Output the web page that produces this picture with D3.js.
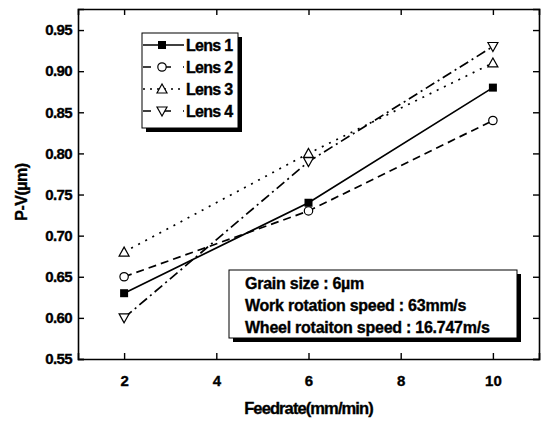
<!DOCTYPE html>
<html>
<head>
<meta charset="utf-8">
<script src="https://cdn.jsdelivr.net/npm/d3@7"></script>
<style>
  body { margin: 0; background: #fff; }
  svg text { font-family: "Liberation Sans", Arial, sans-serif; font-weight: bold; fill: #000;
             stroke: #000; stroke-width: 0.35px; }
</style>
</head>
<body>
<div id="chart"></div>
<script>
const feedrate = [2, 6, 10];
const lens1 = [0.63, 0.74, 0.88];
const lens2 = [0.65, 0.73, 0.84];
const lens3 = [0.68, 0.80, 0.91];
const lens4 = [0.60, 0.79, 0.93];
const seriesNames = ["Lens 1", "Lens 2", "Lens 3", "Lens 4"];
const xTicks = [2, 4, 6, 8, 10];
const yTicks = [0.55, 0.60, 0.65, 0.70, 0.75, 0.80, 0.85, 0.90, 0.95];
const notes = ["Grain size : 6\u00b5m", "Work rotation speed : 63mm/s", "Wheel rotaiton speed : 16.747m/s"];

const W = 549, H = 424;
const M = {top: 9, right: 10, bottom: 65, left: 78};
const IW = W - M.left - M.right, IH = H - M.top - M.bottom;

const svg = d3.select("#chart").append("svg").attr("width", W).attr("height", H);
const plot = svg.append("g").attr("transform", `translate(${M.left},${M.top})`);

const x = d3.scaleLinear().domain([1, 11]).range([0, IW]);
const y = d3.scaleLinear().domain([0.55, 0.9756]).range([IH, 0]);

// axes, ticks inward on all four sides
const fmt = d3.format(".2f");
plot.append("g").attr("transform", `translate(0,${IH})`)
    .call(d3.axisBottom(x).tickValues(xTicks).tickSize(-6).tickPadding(16))
    .call(g => g.selectAll("text").style("font-size", "15px"));
plot.append("g")
    .call(d3.axisTop(x).tickValues(xTicks).tickSize(-6).tickFormat(""));
plot.append("g")
    .call(d3.axisLeft(y).tickValues(yTicks).tickSize(-6).tickPadding(6).tickFormat(fmt))
    .call(g => g.selectAll("text").style("font-size", "15px").attr("letter-spacing", "-0.6"));
plot.append("g").attr("transform", `translate(${IW},0)`)
    .call(d3.axisRight(y).tickValues(yTicks).tickSize(-6).tickFormat(""));
plot.selectAll(".domain").attr("stroke-width", 1.6);
plot.selectAll(".tick line").attr("stroke-width", 1.4);

// axis titles
svg.append("text").attr("x", M.left + IW / 2).attr("y", 414)
    .attr("text-anchor", "middle").style("font-size", "16.5px").attr("letter-spacing", "-0.9")
    .text("Feedrate(mm/min)");
svg.append("text").attr("transform", `translate(27,${M.top + IH / 2 + 8}) rotate(-90)`)
    .attr("text-anchor", "middle").style("font-size", "16px").attr("letter-spacing", "-0.5")
    .text("P-V(\u00b5m)");

const series = [lens1, lens2, lens3, lens4];
const dashes = [null, "8,5", "2,6", "10,4,2,4"];
const line = d3.line().x((d, i) => x(feedrate[i])).y(d => y(d));

function marker(g, k, cx, cy) {
  if (k === 0) {
    g.append("rect").attr("x", cx - 4).attr("y", cy - 4).attr("width", 8).attr("height", 8).attr("fill", "#000");
  } else if (k === 1) {
    g.append("circle").attr("cx", cx).attr("cy", cy).attr("r", 4.2)
        .attr("fill", "#fff").attr("stroke", "#000").attr("stroke-width", 1.2);
  } else {
    const s = k === 2 ? 1 : -1;
    const pts = [[cx, cy - 5 * s], [cx - 5, cy + 4 * s], [cx + 5, cy + 4 * s]];
    g.append("path").attr("d", "M" + pts.join("L") + "Z")
        .attr("fill", "#fff").attr("stroke", "#000").attr("stroke-width", 1.2);
  }
}

series.forEach((vals, k) => {
  plot.append("path").datum(vals).attr("d", line)
      .attr("fill", "none").attr("stroke", "#000").attr("stroke-width", 1.7)
      .attr("stroke-dasharray", dashes[k]);
});
series.forEach((vals, k) => {
  vals.forEach((v, i) => marker(plot, k, x(feedrate[i]), y(v)));
});

// legend
const lg = svg.append("g");
lg.append("rect").attr("x", 146).attr("y", 37).attr("width", 96).attr("height", 95).attr("fill", "#000");
lg.append("rect").attr("x", 142).attr("y", 33).attr("width", 96).attr("height", 95)
    .attr("fill", "#fff").attr("stroke", "#000").attr("stroke-width", 1);
seriesNames.forEach((name, k) => {
  const ly = 45 + k * 22;
  lg.append("line").attr("x1", 143).attr("x2", 184).attr("y1", ly).attr("y2", ly)
      .attr("stroke", "#000").attr("stroke-width", 1.7).attr("stroke-dasharray", dashes[k] ? (k === 2 ? "2,5" : "8,12") : null);
  marker(lg, k, 162, ly);
  lg.append("text").attr("x", 186).attr("y", ly + 5.5).style("font-size", "16px")
      .attr("letter-spacing", "-0.7").text(name);
});

// annotation box
const nb = svg.append("g");
nb.append("rect").attr("x", 233).attr("y", 274).attr("width", 288).attr("height", 68).attr("fill", "#000");
nb.append("rect").attr("x", 229).attr("y", 270).attr("width", 288).attr("height", 68)
    .attr("fill", "#fff").attr("stroke", "#000").attr("stroke-width", 1);
notes.forEach((t, i) => {
  nb.append("text").attr("x", 245).attr("y", 289 + i * 22).style("font-size", "16px")
      .attr("letter-spacing", "-0.25").text(t);
});
</script>
</body>
</html>
